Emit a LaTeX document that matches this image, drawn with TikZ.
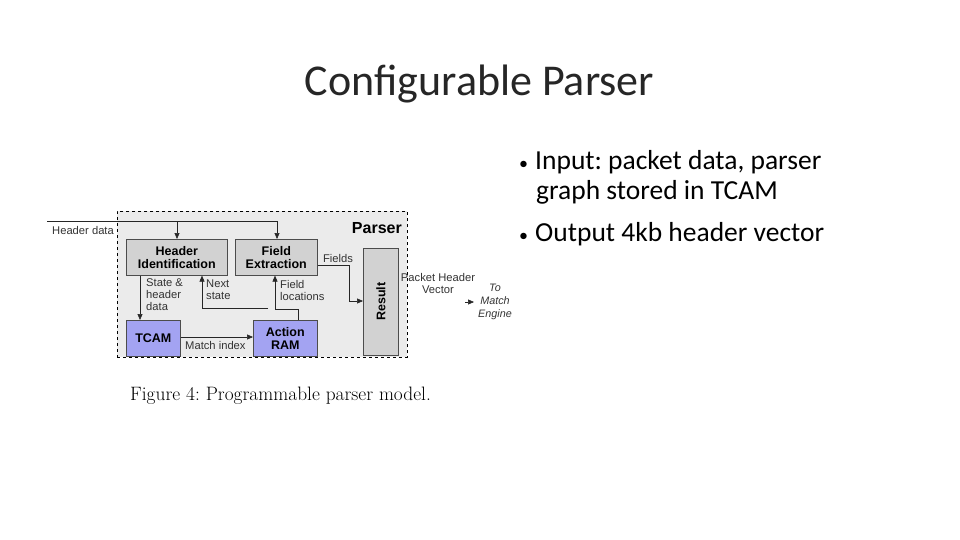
\documentclass[tikz,border=0pt]{standalone}
\usepackage{fontspec}
\setmainfont{Carlito}
\newfontfamily\diagfont{Liberation Sans}
\newfontfamily\capfont{Latin Modern Roman}
\usetikzlibrary{arrows.meta}
\definecolor{outerbg}{HTML}{EBEBEB}
\definecolor{modgray}{HTML}{D2D2D2}
\definecolor{memblue}{HTML}{A3A3F2}
\frenchspacing
\begin{document}
\begin{tikzpicture}[x=1pt,y=-1pt,
  module/.style={draw=black!70,fill=modgray,line width=0.6pt,inner sep=0pt,font=\diagfont\bfseries\fontsize{12.5}{13.5}\selectfont,align=center},
  mem/.style={draw=black!70,fill=memblue,line width=0.6pt,inner sep=0pt,font=\diagfont\bfseries\fontsize{12.5}{13.5}\selectfont,align=center},
  lbl/.style={font=\diagfont\fontsize{11.2}{12}\selectfont,text=black!80,inner sep=0pt,align=left},
  bullet/.style={font=\fontsize{27.5}{33}\selectfont,inner sep=0pt},
  conn/.style={line width=0.6pt,draw=black!85},
  arr/.style={conn,-{Triangle[length=6pt,width=5pt]}}
]
\useasboundingbox (0,0) rectangle (960,540);
% title and bullets
\node[font=\fontsize{44}{52}\selectfont,anchor=base,text=black!85] (title) at (479.5,96) {Configurable Parser};
\node[bullet,anchor=base west] (d1) at (519,170) {\fontsize{18}{20}\selectfont\textbullet};
\node[bullet,anchor=base west] (b1) at (535,170) {Input: packet data, parser};
\node[bullet,anchor=base west] (b1b) at (536,200) {graph stored in TCAM};
\node[bullet,anchor=base west] (d2) at (519,241) {\fontsize{18}{20}\selectfont\textbullet};
\node[bullet,anchor=base west] (b2) at (535,241) {Output 4kb header vector};
% outer parser box
\node[draw=black,dashed,fill=outerbg,line width=0.7pt,minimum width=290pt,minimum height=146pt,anchor=north west,inner sep=0pt] (parser) at (117,211) {};
\node[font=\diagfont\bfseries\fontsize{16}{18}\selectfont,anchor=base east,inner sep=0pt] (ptitle) at (402,233) {Parser};
% modules
\node[module,minimum width=101pt,minimum height=36pt,anchor=north west] (hi) at (126,239) {Header\\Identification};
\node[module,minimum width=82pt,minimum height=36pt,anchor=north west] (fe) at (235,239) {Field\\Extraction};
\node[module,minimum width=35pt,minimum height=107pt,anchor=north west] (res) at (363,248) {};
\node[font=\diagfont\bfseries\fontsize{12.5}{13.5}\selectfont,rotate=90] (reslbl) at (res.center) {Result};
\node[mem,minimum width=54pt,minimum height=36pt,anchor=north west] (tcam) at (126,320) {TCAM};
\node[mem,minimum width=64pt,minimum height=36pt,anchor=north west] (ram) at (253,320) {Action\\RAM};
% header data
\coordinate (hdstart) at (47,221);
\coordinate (hdend) at (277,221);
\draw[conn] (hdstart) -- (hdend);
\draw[arr] (177,221) -- (hi.north -| 177,0);
\draw[arr] (hdend) -- (fe.north -| hdend);
\node[lbl,anchor=north west] (hdlbl) at (52,226) {Header data};
% state & header data
\draw[arr] (hi.south -| 140,0) -- (tcam.north -| 140,0);
\node[lbl,anchor=north west] (shd) at (146,278) {State \&\\header\\data};
% match index
\draw[arr] (tcam.east |- 0,337) -- (ram.west |- 0,337);
\node[lbl,anchor=north west] (mi) at (185,341) {Match index};
% next state and field locations
\coordinate (nsbend) at (202,308);
\coordinate (nsend) at (268,308);
\draw[conn] (nsend) -- (nsbend);
\draw[arr] (nsbend) -- (hi.south -| nsbend);
\node[lbl,anchor=north west] (ns) at (206,280) {Next\\state};
\coordinate (flup) at (298,309);
\coordinate (flbend) at (275,309);
\draw[arr] (ram.north -| flup) -- (flup) -- (flbend) -- (fe.south -| flbend);
\node[lbl,anchor=north west] (fl) at (280,280) {Field\\locations};
% fields
\coordinate (f1) at (349,265);
\coordinate (f2) at (349,301);
\draw[arr] (fe.east |- f1) -- (f1) -- (f2) -- (res.west |- f2);
\node[lbl,anchor=base] (fields) at (338,262) {Fields};
% output
\node[lbl,align=center,anchor=north] (phv) at (438,273) {Packet Header\\Vector};
\coordinate (oa1) at (465,302);
\coordinate (oa2) at (474,302);
\draw[arr] (oa1) -- (oa2);
\node[lbl,font=\diagfont\itshape\fontsize{10.8}{13}\selectfont,align=center,anchor=north] (tme) at (495,284) {To\\Match\\Engine};
% caption
\node[font=\capfont\fontsize{19.4}{22}\selectfont,anchor=base west,inner sep=0pt] (cap) at (130,400) {Figure 4: Programmable parser model.};
\end{tikzpicture}
\end{document}
